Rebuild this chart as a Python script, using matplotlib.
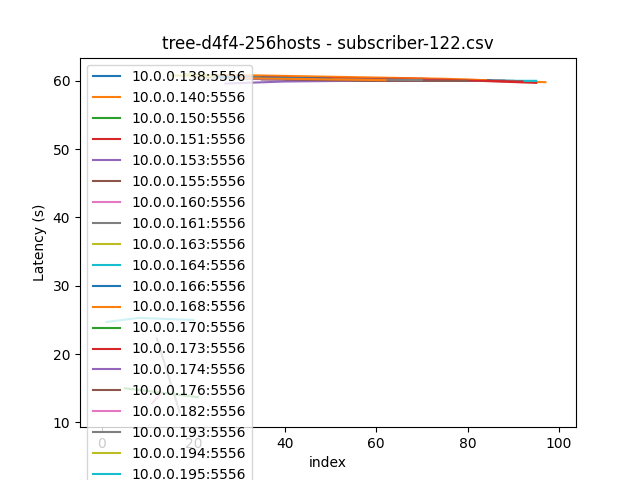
import matplotlib
matplotlib.use("Agg")
import matplotlib.pyplot as plt

hosts = ["138", "140", "150", "151", "153", "155", "160", "161", "163", "164",
         "166", "168", "170", "173", "174", "176", "182", "193", "194", "195",
         "196", "198"]

# (index, latency) samples per host
xs = [
    [22, 45, 70, 90], [25, 50, 75, 97], [28, 45, 80], [40, 70, 95],
    [27, 40, 55, 88], [35, 60, 85], [50, 70, 85], [12, 17], [18, 35],
    [55, 80, 95], [30, 60, 88], [26, 55, 84], [5, 21], [35, 65, 92],
    [30, 50, 75], [40, 58, 80], [11, 13], [20, 45, 70], [15, 30],
    [1, 8, 20], [25, 50], [30, 62],
]
ys = [
    [60.6, 60.3, 60.1, 60.0], [60.9, 60.6, 60.3, 59.8], [60.5, 60.2, 60.0],
    [60.3, 60.3, 59.7], [59.6, 59.9, 60.0, 60.0], [60.2, 60.1, 60.1],
    [60.1, 60.0, 60.0], [22.3, 11.5], [61.0, 60.5], [60.1, 60.0, 60.0],
    [60.4, 60.2, 60.0], [60.7, 60.4, 60.1], [15.0, 13.7], [60.5, 60.2, 59.9],
    [60.3, 60.1, 60.0], [60.2, 60.0, 60.0], [12.8, 14.3], [60.5, 60.3, 60.1],
    [60.8, 60.5], [24.7, 25.3, 25.0], [60.6, 60.3], [60.4, 60.1],
]

fig, ax = plt.subplots(figsize=(6.4, 4.8), dpi=100)
for h, x, y in zip(hosts, xs, ys):
    ax.plot(x, y, label=f"10.0.0.{h}:5556")

ax.set_xlim(-4.8, 103.7)
ax.set_ylim(9.3, 63.4)
ax.set_xticks([0, 20, 40, 60, 80, 100])
ax.set_yticks([10, 20, 30, 40, 50, 60])
ax.set_xlabel("index")
ax.set_ylabel("Latency (s)")
ax.set_title("tree-d4f4-256hosts - subscriber-122.csv")
ax.legend(loc="upper left")
plt.savefig("out.png")
